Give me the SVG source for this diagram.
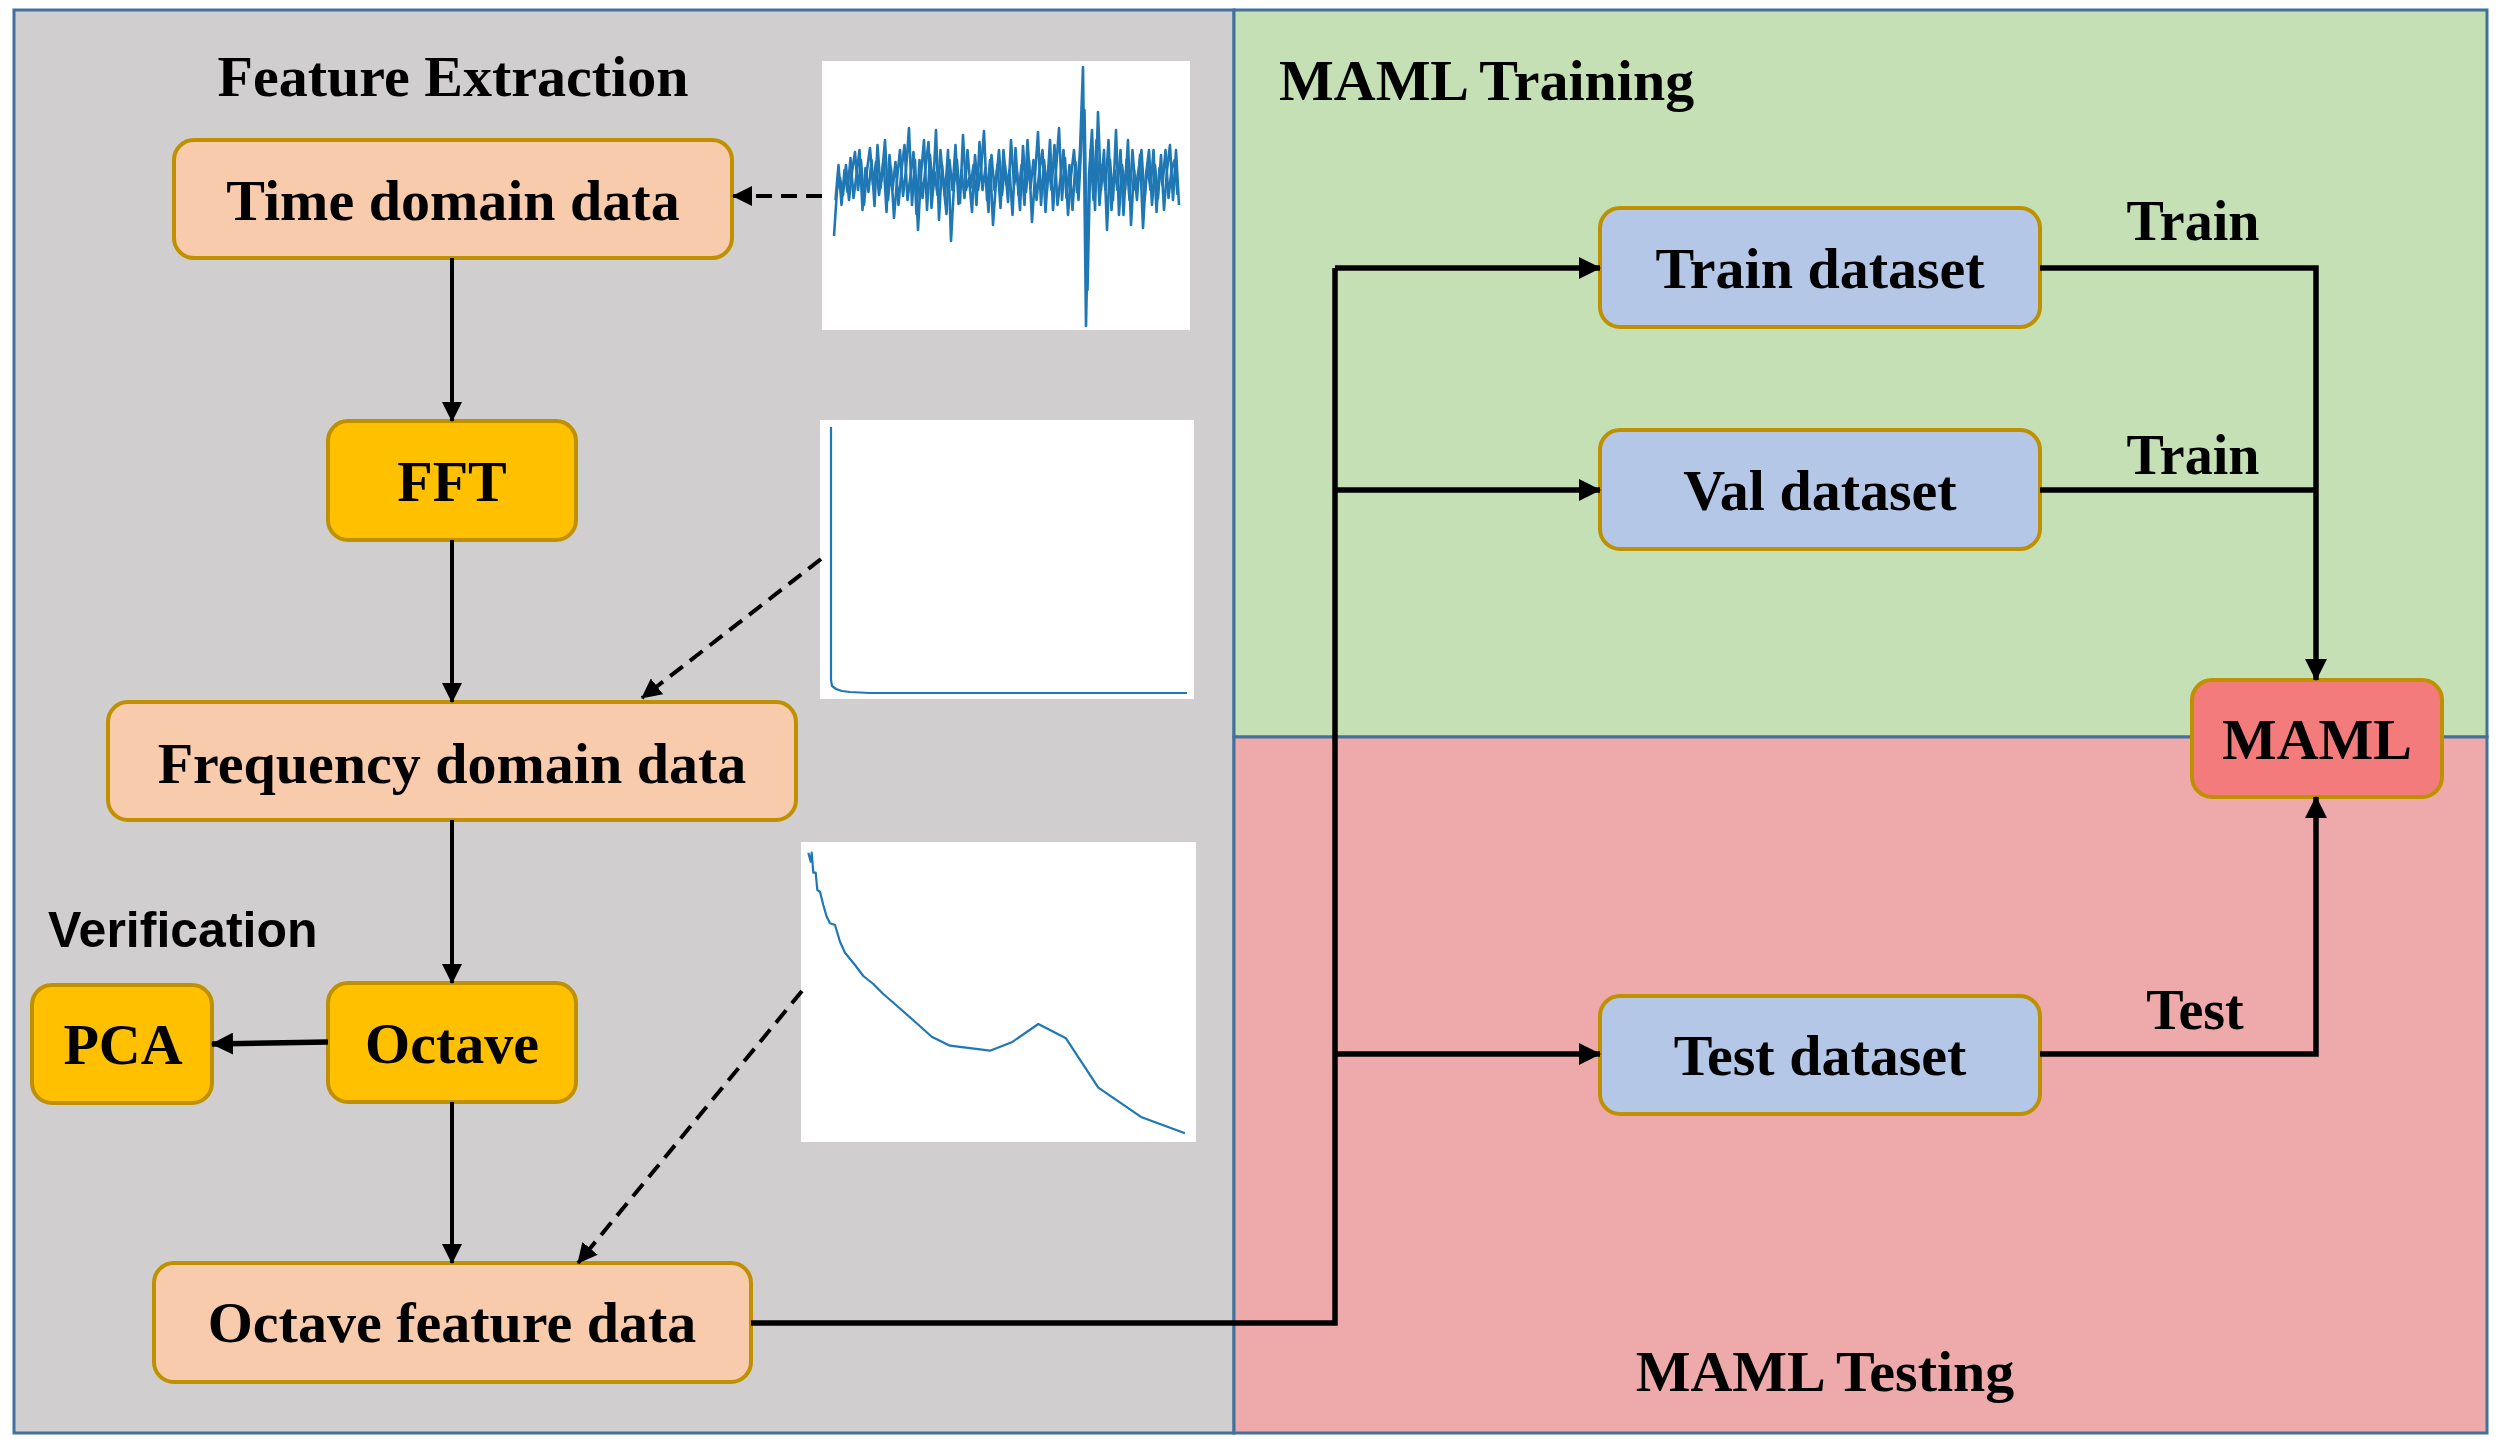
<svg xmlns="http://www.w3.org/2000/svg" width="2503" height="1448" viewBox="0 0 2503 1448">
<defs>
<style>
.panel{stroke:#41719C;stroke-width:3}
.box{stroke:#BF9000;stroke-width:4}
.t{font-family:"Liberation Serif","Times New Roman",serif;font-weight:bold;font-size:58px;fill:#000}
.lbl{font-family:"Liberation Serif","Times New Roman",serif;font-weight:bold;font-size:56px;fill:#000}
.sans{font-family:"Liberation Sans",Arial,sans-serif;font-weight:bold;font-size:50px;fill:#000}
.ln{fill:none;stroke:#000;stroke-width:4}
.lnb{fill:none;stroke:#000;stroke-width:5.5}
.dash{fill:none;stroke:#000;stroke-width:4;stroke-dasharray:16 9}
.plot{fill:none;stroke:#1F77B4;stroke-width:2.2;stroke-linejoin:round}
.noise{fill:none;stroke:#1F77B4;stroke-width:2.6;stroke-linejoin:round}
</style>
<marker id="ah" markerUnits="userSpaceOnUse" markerWidth="20" markerHeight="20" refX="19" refY="10" orient="auto">
<path d="M0,0 L20,10 L0,20 z" fill="#000"/>
</marker>
<marker id="ahb" markerUnits="userSpaceOnUse" markerWidth="22" markerHeight="22" refX="21" refY="11" orient="auto">
<path d="M0,0 L22,11 L0,22 z" fill="#000"/>
</marker>
</defs>

<g id="panels">
<rect id="panel-feature" class="panel" x="14" y="10" width="1220" height="1423" fill="#D0CECE"/>
<rect id="panel-training" class="panel" x="1234" y="10" width="1253" height="727" fill="#C5E0B4"/>
<rect id="panel-testing" class="panel" x="1234" y="737" width="1253" height="696" fill="#EEAAAA"/>
</g>

<g id="titles">
<text class="t" x="453" y="96" text-anchor="middle">Feature Extraction</text>
<text class="t" x="1279" y="100">MAML Training</text>
<text class="t" x="1825" y="1391" text-anchor="middle">MAML Testing</text>
<text class="sans" x="48" y="947">Verification</text>
</g>

<g id="plot-time">
<rect x="822" y="61" width="368" height="269" fill="#fff"/>
<g transform="translate(834,0) scale(3,1)">
<polyline class="noise" vector-effect="non-scaling-stroke" points="0,236 1,190 2,178 3,195 4,165 5,200 6,172 7,152 8,190 9,160 10,205 11,170 12,148 13,185 14,162 15,195 16,175 17,140 18,200 19,168 20,218 21,180 22,150 23,196 24,170 25,128 26,205 27,160 28,230 29,175 30,140 31,210 32,155 33,190 34,130 35,220 36,165 37,196 38,150 39,241 40,185 41,160 42,203 43,135 44,190 45,178 46,212 47,155 48,190 49,170 50,131 51,200 52,160 53,225 54,182 55,150 56,195 57,165 58,202 59,140 60,185 61,172 62,210 63,146 64,192 65,160 66,222 67,176 68,132 69,205 70,160 71,190 72,140 73,210 74,170 75,128 76,200 77,158 78,215 79,176 80,150 81,192 82,150 83,67 84,326 85,175 86,130 87,210 88,112 89,190 90,150 91,230 92,160 93,200 94,130 95,215 96,165 97,190 98,140 99,225 100,170 101,200 102,155 103,228 104,175 105,150 106,205 107,165 108,198 109,155 110,210 111,170 112,145 113,200 114,150 115,205"/>
<polyline class="noise" vector-effect="non-scaling-stroke" points="0.5,200 1.5,165 2.5,205 3.5,170 4.5,192 5.5,158 6.5,198 7.5,175 8.5,150 9.5,210 10.5,168 11.5,192 12.5,160 13.5,206 14.5,145 15.5,188 16.5,160 17.5,212 18.5,155 19.5,190 20.5,162 21.5,205 22.5,170 23.5,145 24.5,200 25.5,176 26.5,152 27.5,214 28.5,160 29.5,198 30.5,168 31.5,142 32.5,208 33.5,172 34.5,195 35.5,150 36.5,185 37.5,214 38.5,160 39.5,190 40.5,145 41.5,204 42.5,170 43.5,198 44.5,150 45.5,188 46.5,165 47.5,205 48.5,142 49.5,190 50.5,168 51.5,212 52.5,155 53.5,190 54.5,165 55.5,208 56.5,150 57.5,185 58.5,170 59.5,215 60.5,148 61.5,195 62.5,165 63.5,205 64.5,140 65.5,188 66.5,160 67.5,200 68.5,170 69.5,150 70.5,212 71.5,166 72.5,190 73.5,145 74.5,205 75.5,178 76.5,150 77.5,198 78.5,165 79.5,210 80.5,162 81.5,200 82.5,140 83.5,110 84.5,290 85.5,150 86.5,200 87.5,140 88.5,205 89.5,165 90.5,190 91.5,140 92.5,210 93.5,170 94.5,190 95.5,150 96.5,215 97.5,160 98.5,200 99.5,150 100.5,190 101.5,170 102.5,150 103.5,200 104.5,165 105.5,190 106.5,150 107.5,212 108.5,168 109.5,185 110.5,150 111.5,198 112.5,170 113.5,160 114.5,195"/>
</g>
</g>

<g id="plot-fft">
<rect x="820" y="420" width="374" height="279" fill="#fff"/>
<polyline class="plot" points="831,427 831,680 832,686 836,689 842,691 850,692 870,693 1187,693"/>
</g>

<g id="plot-octave">
<rect x="801" y="842" width="395" height="300" fill="#fff"/>
<polyline class="plot" points="808.3,852.7 810.7,861.7 811.7,852.7 813.3,872.7 815.7,872.7 817.3,890 820,891.7 823.3,905 826.7,916.7 830,923.3 835,925 840,941.7 845,952.7 855,965 863.3,976 873.3,984 883.3,994 901.7,1010 916.7,1023.3 931.7,1036.7 950,1045.7 990,1050.7 1011.7,1042.3 1038.3,1024 1066,1038.3 1098.3,1087.7 1141.7,1117.3 1185,1133.3"/>
</g>

<g id="node-time">
<rect class="box" x="174" y="140" width="558" height="118" rx="20" fill="#F8CBAD"/>
<text class="t" x="453" y="220" text-anchor="middle">Time domain data</text>
</g>
<g id="node-fft">
<rect class="box" x="328" y="421" width="248" height="119" rx="20" fill="#FFC000"/>
<text class="t" x="452" y="501" text-anchor="middle">FFT</text>
</g>
<g id="node-freq">
<rect class="box" x="108" y="702" width="688" height="118" rx="20" fill="#F8CBAD"/>
<text class="t" x="452" y="783" text-anchor="middle">Frequency domain data</text>
</g>
<g id="node-octave">
<rect class="box" x="328" y="983" width="248" height="119" rx="20" fill="#FFC000"/>
<text class="t" x="452" y="1063" text-anchor="middle">Octave</text>
</g>
<g id="node-pca">
<rect class="box" x="32" y="985" width="180" height="118" rx="20" fill="#FFC000"/>
<text class="t" x="123" y="1064" text-anchor="middle">PCA</text>
</g>
<g id="node-octfeat">
<rect class="box" x="154" y="1263" width="597" height="119" rx="20" fill="#F8CBAD"/>
<text class="t" x="452" y="1342" text-anchor="middle">Octave feature data</text>
</g>
<g id="node-train">
<rect class="box" x="1600" y="208" width="440" height="119" rx="20" fill="#B4C7E7"/>
<text class="t" x="1820" y="288" text-anchor="middle">Train dataset</text>
</g>
<g id="node-val">
<rect class="box" x="1600" y="430" width="440" height="119" rx="20" fill="#B4C7E7"/>
<text class="t" x="1820" y="510" text-anchor="middle">Val dataset</text>
</g>
<g id="node-test">
<rect class="box" x="1600" y="996" width="440" height="118" rx="20" fill="#B4C7E7"/>
<text class="t" x="1820" y="1075" text-anchor="middle">Test dataset</text>
</g>
<g id="node-maml">
<rect class="box" x="2192" y="680" width="250" height="117" rx="20" fill="#F47B7B"/>
<text class="t" x="2317" y="759" text-anchor="middle">MAML</text>
</g>

<g id="connectors">
<line class="ln" x1="452" y1="258" x2="452" y2="421" marker-end="url(#ah)"/>
<line class="ln" x1="452" y1="540" x2="452" y2="702" marker-end="url(#ah)"/>
<line class="ln" x1="452" y1="820" x2="452" y2="983" marker-end="url(#ah)"/>
<line class="ln" x1="452" y1="1102" x2="452" y2="1263" marker-end="url(#ah)"/>
<line class="lnb" x1="328" y1="1042" x2="212" y2="1044" marker-end="url(#ahb)"/>
<line class="dash" x1="822" y1="196" x2="733" y2="196" marker-end="url(#ah)"/>
<line class="dash" x1="821" y1="559" x2="642" y2="698" marker-end="url(#ah)"/>
<line class="dash" x1="802" y1="991" x2="578" y2="1263" marker-end="url(#ah)"/>
<polyline class="lnb" points="751,1323 1335,1323 1335,268"/>
<line class="lnb" x1="1335" y1="268" x2="1600" y2="268" marker-end="url(#ahb)"/>
<line class="lnb" x1="1335" y1="490" x2="1600" y2="490" marker-end="url(#ahb)"/>
<line class="lnb" x1="1335" y1="1054" x2="1600" y2="1054" marker-end="url(#ahb)"/>
<polyline class="lnb" points="2040,268 2316,268 2316,680" marker-end="url(#ahb)"/>
<line class="lnb" x1="2040" y1="490" x2="2316" y2="490"/>
<polyline class="lnb" points="2040,1054 2316,1054 2316,797" marker-end="url(#ahb)"/>
<text class="lbl" x="2193" y="240" text-anchor="middle">Train</text>
<text class="lbl" x="2193" y="474" text-anchor="middle">Train</text>
<text class="lbl" x="2195" y="1029" text-anchor="middle">Test</text>
</g>
</svg>
